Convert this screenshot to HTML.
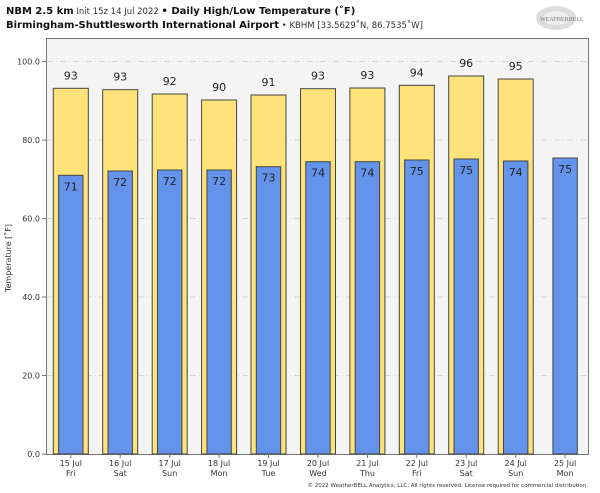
<!DOCTYPE html>
<html><head><meta charset="utf-8"><style>
body{margin:0;background:#fff;}
svg{display:block;font-family:"DejaVu Sans","Liberation Sans",sans-serif;}
</style></head><body>
<svg width="600" height="493" viewBox="0 0 600 493" xmlns="http://www.w3.org/2000/svg">
<text x="6" y="14" font-size="10" fill="#111"><tspan font-weight="bold">NBM 2.5 km</tspan><tspan font-size="8.5" fill="#333"> Init 15z 14 Jul 2022 </tspan><tspan font-weight="bold">• Daily High/Low Temperature (˚F)</tspan></text>
<text x="6" y="28" font-size="10" fill="#111"><tspan font-weight="bold">Birmingham-Shuttlesworth International Airport</tspan><tspan font-size="8.5" fill="#333"> • KBHM [33.5629˚N, 86.7535˚W]</tspan></text>
<ellipse cx="556" cy="18" rx="20" ry="12" fill="#ddd"/><ellipse cx="556" cy="18" rx="13" ry="7" fill="#eee"/>
<text x="540" y="21" font-size="6" fill="#777" font-family="Liberation Serif,serif">WEATHERBELL</text>
<rect x="46.5" y="38.5" width="542" height="416" fill="#f4f4f4" stroke="#777" stroke-width="1"/>
<g stroke="#ccc" stroke-dasharray="6,3,1,3" stroke-width="0.8">
<line x1="47" x2="588" y1="61.6" y2="61.6"/><line x1="47" x2="588" y1="140.1" y2="140.1"/><line x1="47" x2="588" y1="218.6" y2="218.6"/><line x1="47" x2="588" y1="297" y2="297"/><line x1="47" x2="588" y1="375.5" y2="375.5"/>
</g>
<g font-size="8" fill="#333" text-anchor="end">
<text x="40" y="64.5">100.0</text><text x="40" y="143">80.0</text><text x="40" y="221.5">60.0</text><text x="40" y="300">40.0</text><text x="40" y="378.5">20.0</text><text x="40" y="457">0.0</text>
</g>
<g stroke="#777"><line x1="42" x2="46" y1="61.6" y2="61.6"/><line x1="42" x2="46" y1="140.1" y2="140.1"/><line x1="42" x2="46" y1="218.6" y2="218.6"/><line x1="42" x2="46" y1="297" y2="297"/><line x1="42" x2="46" y1="375.5" y2="375.5"/><line x1="42" x2="46" y1="454" y2="454"/></g>
<text transform="translate(11,258) rotate(-90)" font-size="8" fill="#333" text-anchor="middle">Temperature [˚F]</text>
<g stroke="#444" stroke-width="1" fill="#ffe37a">
<rect x="53.3" y="88.3" width="35" height="365.7"/>
<rect x="102.7" y="89.7" width="35" height="364.3"/>
<rect x="152.2" y="94" width="35" height="360"/>
<rect x="201.6" y="100" width="35" height="354"/>
<rect x="251" y="95" width="35" height="359"/>
<rect x="300.5" y="88.7" width="35" height="365.3"/>
<rect x="349.9" y="88" width="35" height="366"/>
<rect x="399.3" y="85.3" width="35" height="368.7"/>
<rect x="448.7" y="76" width="35" height="378"/>
<rect x="498.2" y="79" width="35" height="375"/>
</g>
<g stroke="#444" stroke-width="1" fill="#6393ea">
<rect x="58.6" y="175.3" width="24.4" height="278.7"/>
<rect x="108" y="171" width="24.4" height="283"/>
<rect x="157.5" y="170" width="24.4" height="284"/>
<rect x="206.9" y="170" width="24.4" height="284"/>
<rect x="256.3" y="166.7" width="24.4" height="287.3"/>
<rect x="305.8" y="161.7" width="24.4" height="292.3"/>
<rect x="355.2" y="161.7" width="24.4" height="292.3"/>
<rect x="404.6" y="160" width="24.4" height="294"/>
<rect x="454" y="159" width="24.4" height="295"/>
<rect x="503.5" y="161" width="24.4" height="293"/>
<rect x="552.9" y="158" width="24.4" height="296"/>
</g>
<g font-size="11" fill="#222" text-anchor="middle">
<text x="70.8" y="79.3">93</text><text x="120.2" y="80.7">93</text><text x="169.7" y="85">92</text><text x="219.1" y="91">90</text><text x="268.5" y="86">91</text><text x="318" y="79.7">93</text><text x="367.4" y="79">93</text><text x="416.8" y="76.3">94</text><text x="466.2" y="67">96</text><text x="515.7" y="70">95</text>
<text x="70.8" y="190.3">71</text><text x="120.2" y="186">72</text><text x="169.7" y="185">72</text><text x="219.1" y="185">72</text><text x="268.5" y="181.7">73</text><text x="318" y="176.7">74</text><text x="367.4" y="176.7">74</text><text x="416.8" y="175">75</text><text x="466.2" y="174">75</text><text x="515.7" y="176">74</text><text x="565.1" y="173">75</text>
</g>
<g stroke="#777">
<line x1="70.8" x2="70.8" y1="454" y2="458"/><line x1="120.2" x2="120.2" y1="454" y2="458"/><line x1="169.7" x2="169.7" y1="454" y2="458"/><line x1="219.1" x2="219.1" y1="454" y2="458"/><line x1="268.5" x2="268.5" y1="454" y2="458"/><line x1="318" x2="318" y1="454" y2="458"/><line x1="367.4" x2="367.4" y1="454" y2="458"/><line x1="416.8" x2="416.8" y1="454" y2="458"/><line x1="466.2" x2="466.2" y1="454" y2="458"/><line x1="515.7" x2="515.7" y1="454" y2="458"/><line x1="565.1" x2="565.1" y1="454" y2="458"/>
</g>
<g font-size="8" fill="#333" text-anchor="middle">
<text x="70.8" y="466">15 Jul</text><text x="70.8" y="476">Fri</text>
<text x="120.2" y="466">16 Jul</text><text x="120.2" y="476">Sat</text>
<text x="169.7" y="466">17 Jul</text><text x="169.7" y="476">Sun</text>
<text x="219.1" y="466">18 Jul</text><text x="219.1" y="476">Mon</text>
<text x="268.5" y="466">19 Jul</text><text x="268.5" y="476">Tue</text>
<text x="318" y="466">20 Jul</text><text x="318" y="476">Wed</text>
<text x="367.4" y="466">21 Jul</text><text x="367.4" y="476">Thu</text>
<text x="416.8" y="466">22 Jul</text><text x="416.8" y="476">Fri</text>
<text x="466.2" y="466">23 Jul</text><text x="466.2" y="476">Sat</text>
<text x="515.7" y="466">24 Jul</text><text x="515.7" y="476">Sun</text>
<text x="565.1" y="466">25 Jul</text><text x="565.1" y="476">Mon</text>
</g>
<text x="588" y="487" font-size="5.5" fill="#333" text-anchor="end">© 2022 WeatherBELL Analytics, LLC. All rights reserved. License required for commercial distribution.</text>
</svg>
</body></html>
